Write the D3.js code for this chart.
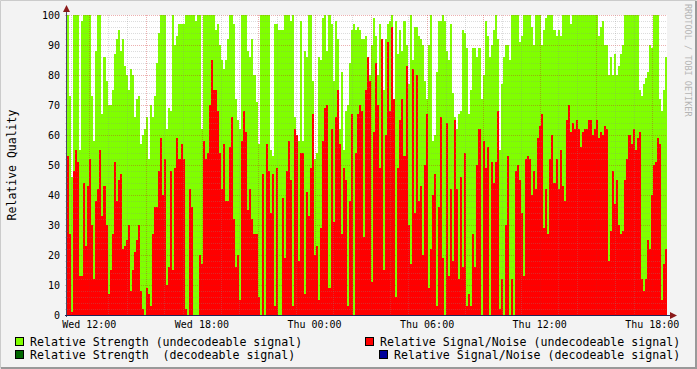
<!DOCTYPE html>
<html>
<head>
<meta charset="utf-8">
<script src="https://cdn.jsdelivr.net/npm/d3@7"></script>
<style>
  body { margin: 0; background: #f3f3f3; }
  svg { display: block; }
  text { font-family: "DejaVu Sans Mono", monospace; fill: #000; }
</style>
</head>
<body>
<div id="chart"></div>
<script>
// Relative Strength (undecodeable) - one value per ~2px column
var strength = [
  100,73,46,100,100,100,55,98,100,100,100,100,73,58,88,100,100,67,86,78,70,70,75,87,92,95,88,92,83,80,75,82,80,66,72,73,57,60,62,66,52,70,66,73,84,94,100,100,100,62,69,
  68,100,90,93,97,97,97,100,100,100,100,100,98,100,100,62,100,100,100,100,100,100,95,97,90,85,82,85,92,100,100,97,72,65,62,100,100,100,88,86,92,80,71,57,100,100,100,100,100,55,53,
  97,97,95,95,95,100,100,100,98,100,66,60,58,98,58,88,86,100,100,78,52,54,86,85,99,100,88,100,97,78,98,92,62,81,55,68,70,84,95,97,95,96,95,92,92,93,80,80,90,99,93,80,
  97,80,75,92,97,98,100,55,98,87,95,88,98,90,77,100,85,96,96,93,92,90,78,72,90,100,58,60,81,98,98,100,98,88,85,97,74,66,62,67,68,95,94,89,67,75,89,89,86,89,72,80,
  98,93,86,90,95,100,92,55,77,86,90,90,85,100,100,100,100,91,93,100,100,100,100,96,90,100,100,100,90,95,99,100,100,100,95,93,95,93,100,100,100,100,97,100,100,100,100,100,100,100,100,100,
  100,100,100,100,93,96,98,90,90,80,86,80,87,80,83,87,90,100,100,100,100,100,100,100,75,73,77,79,81,90,89,100,100,100,72,68,75,86
];
// Relative Signal/Noise (undecodeable)
var snr = [
  53,27,1,48,55,51,13,13,44,23,43,52,30,12,38,42,55,33,43,30,7,15,27,51,38,45,47,22,23,25,30,8,15,21,25,30,8,2,0,9,7,3,27,36,36,48,59,40,52,10,16,
  48,15,49,59,52,57,52,2,0,42,36,0,0,0,20,17,58,52,54,70,85,75,75,68,54,42,57,38,38,56,66,32,16,20,5,58,68,61,35,42,32,27,27,6,0,47,0,57,48,34,47,3,
  49,0,0,39,19,48,58,45,3,62,60,18,54,54,7,41,33,49,67,20,23,5,29,58,69,70,9,62,31,66,75,57,27,49,45,3,38,67,0,54,67,70,68,26,75,86,78,11,61,84,70,49,
  92,15,60,91,68,96,72,6,49,65,72,53,83,30,17,82,34,80,38,43,20,50,67,9,22,40,47,3,36,66,19,0,64,13,42,18,65,42,12,46,16,54,3,7,3,27,16,50,62,0,58,49,
  56,0,51,44,51,68,2,12,0,30,53,0,12,0,48,50,45,34,13,52,53,52,40,48,42,59,63,67,29,42,27,52,60,44,52,42,55,43,38,65,70,61,64,62,65,62,56,61,62,62,65,65,
  60,62,65,59,61,60,63,62,18,28,48,37,45,30,27,28,45,52,60,57,62,55,59,61,12,8,12,25,22,40,50,51,59,57,5,17,22,38
];
var yTicks = [0, 10, 20, 30, 40, 50, 60, 70, 80, 90, 100];
var legendItems = [
  ["Relative Strength (undecodeable signal)", "#80ff00"],
  ["Relative Strength  (decodeable signal)", "#006600"],
  ["Relative Signal/Noise (undecodeable signal)", "#ff0000"],
  ["Relative Signal/Noise (decodeable signal)", "#000099"]
];

var W = 697, H = 369;
var margin = { top: 15, left: 67, right: 30, bottom: 54 };
var pw = 600, ph = 300;

var tStart = new Date(2024, 0, 3, 10, 48, 40);
var tEnd = new Date(2024, 0, 4, 18, 47, 0);
var step = (tEnd - tStart) / strength.length;

var data = strength.map(function (d, i) {
  return { t: new Date(+tStart + i * step), g: d, r: snr[i] };
});
data.push({ t: tEnd, g: strength[strength.length - 1], r: snr[snr.length - 1] });

var x = d3.scaleTime().domain([tStart, tEnd]).range([margin.left, margin.left + pw]);
var y = d3.scaleLinear().domain([0, 100]).range([margin.top + ph, margin.top]);

var svg = d3.select("#chart").append("svg").attr("width", W).attr("height", H);

// canvas + frame
svg.append("rect").attr("width", W).attr("height", H).attr("fill", "#f3f3f3");
svg.append("path").attr("d", "M0.5," + (H - 0.5) + "V0.5H" + (W - 0.5)).attr("stroke", "#cbcbcb").attr("fill", "none");
svg.append("path").attr("d", "M" + (W - 1) + ",1V" + (H - 1) + "H1").attr("stroke", "#999").attr("stroke-width", 2).attr("fill", "none");

svg.append("rect").attr("x", margin.left).attr("y", margin.top).attr("width", pw).attr("height", ph).attr("fill", "#fff");

var areaG = d3.area().curve(d3.curveStepAfter)
  .x(function (d) { return x(d.t); }).y0(y(0)).y1(function (d) { return y(d.g); });
var areaR = d3.area().curve(d3.curveStepAfter)
  .x(function (d) { return x(d.t); }).y0(y(0)).y1(function (d) { return y(d.r); });

svg.append("path").datum(data).attr("d", areaG).attr("fill", "#80ff00").attr("shape-rendering", "crispEdges");
svg.append("path").datum(data).attr("d", areaR).attr("fill", "#ff0000").attr("shape-rendering", "crispEdges");

// grid on top, like rrdtool
var grid = svg.append("g").attr("shape-rendering", "crispEdges");
var minorY = d3.range(0, 101, 2);
grid.selectAll(".hmin").data(minorY.filter(function (v) { return v % 10 !== 0; })).enter().append("line")
  .attr("x1", margin.left - 2).attr("x2", margin.left + pw)
  .attr("y1", function (d) { return Math.round(y(d)) + 0.5; }).attr("y2", function (d) { return Math.round(y(d)) + 0.5; })
  .attr("stroke", "rgba(140,140,140,0.3)").attr("stroke-dasharray", "1,1");
grid.selectAll(".hmaj").data(yTicks.slice(1)).enter().append("line")
  .attr("x1", margin.left - 2).attr("x2", margin.left + pw)
  .attr("y1", function (d) { return Math.round(y(d)) + 0.5; }).attr("y2", function (d) { return Math.round(y(d)) + 0.5; })
  .attr("stroke", "rgba(200,30,30,0.35)").attr("stroke-dasharray", "1,1");

var hours = x.ticks(d3.timeHour.every(1));
grid.selectAll(".vmin").data(hours.filter(function (d) { return d.getHours() % 3 !== 0; })).enter().append("line")
  .attr("x1", function (d) { return Math.round(x(d)) + 0.5; }).attr("x2", function (d) { return Math.round(x(d)) + 0.5; })
  .attr("y1", margin.top).attr("y2", margin.top + ph + 2)
  .attr("stroke", "rgba(140,140,140,0.3)").attr("stroke-dasharray", "1,1");
grid.selectAll(".vmaj").data(hours.filter(function (d) { return d.getHours() % 3 === 0; })).enter().append("line")
  .attr("x1", function (d) { return Math.round(x(d)) + 0.5; }).attr("x2", function (d) { return Math.round(x(d)) + 0.5; })
  .attr("y1", margin.top).attr("y2", margin.top + ph + 2)
  .attr("stroke", "rgba(200,30,30,0.35)").attr("stroke-dasharray", "1,1");

// axes
var ax = svg.append("g").attr("shape-rendering", "crispEdges");
ax.append("line").attr("x1", margin.left - 0.5).attr("x2", margin.left - 0.5)
  .attr("y1", margin.top + ph + 2).attr("y2", margin.top - 7).attr("stroke", "#4a4a66");
ax.append("line").attr("x1", margin.left - 2).attr("x2", margin.left + pw + 6)
  .attr("y1", margin.top + ph + 0.5).attr("y2", margin.top + ph + 0.5).attr("stroke", "#222255");
svg.append("path").attr("d", "M" + (margin.left - 4) + "," + (margin.top - 3) + "L" + (margin.left - 0.5) + "," + (margin.top - 10) + "L" + (margin.left + 3) + "," + (margin.top - 3) + "Z").attr("fill", "#8b1a1a");
svg.append("path").attr("d", "M" + (margin.left + pw + 3) + "," + (margin.top + ph - 3) + "L" + (margin.left + pw + 10) + "," + (margin.top + ph + 0.5) + "L" + (margin.left + pw + 3) + "," + (margin.top + ph + 4) + "Z").attr("fill", "#8b1a1a");

// y labels
svg.selectAll(".ylab").data(yTicks).enter().append("text")
  .attr("x", margin.left - 7).attr("y", function (d) { return y(d); }).attr("dy", "0.35em")
  .attr("text-anchor", "end").attr("font-size", "10px").text(function (d) { return d; });

// x labels
var fmt = d3.timeFormat("%a %H:%M");
svg.selectAll(".xlab").data(hours.filter(function (d) { return d.getHours() % 6 === 0; })).enter().append("text")
  .attr("x", function (d) { return x(d); }).attr("y", margin.top + ph + 9.5).attr("dy", "0.35em")
  .attr("text-anchor", "middle").attr("font-size", "10px").text(function (d) { return fmt(d); });

// y title
svg.append("text").attr("transform", "translate(12," + (margin.top + ph / 2) + ") rotate(-90)")
  .attr("text-anchor", "middle").attr("dy", "0.35em").attr("font-size", "11.5px").text("Relative Quality");

// watermark
svg.append("text").attr("transform", "translate(685,4) rotate(90)")
  .attr("font-size", "8.5px").style("fill", "#b5b5b5").text("RRDTOOL / TOBI OETIKER");

// legend
var legPos = [[15, 341.5], [15, 355], [365, 341.5], [379, 355]];
legendItems.forEach(function (it, i) {
  var p = legPos[i];
  svg.append("rect").attr("x", p[0] + 0.5).attr("y", p[1] - 4.5).attr("width", 8).attr("height", 8)
    .attr("fill", it[1]).attr("stroke", "#000").attr("shape-rendering", "crispEdges");
  svg.append("text").attr("x", p[0] + 15).attr("y", p[1]).attr("dy", "0.35em")
    .attr("font-size", "11.6px").attr("xml:space", "preserve").style("white-space", "pre").text(it[0]);
});
</script>
</body>
</html>
